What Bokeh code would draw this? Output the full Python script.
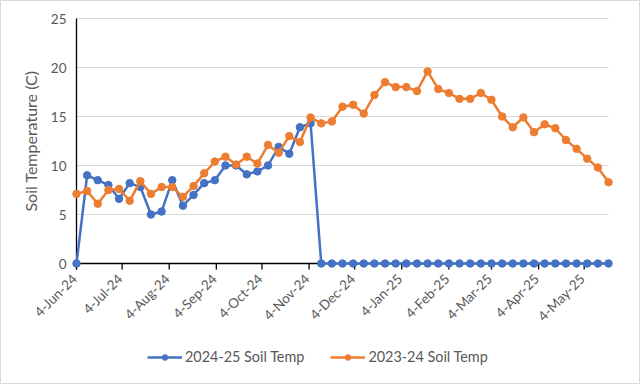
import math
import pandas as pd
from bokeh.plotting import figure
from bokeh.models import Range1d, Legend, LegendItem, ColumnDataSource
from bokeh.core.properties import value
from bokeh.embed import file_html
from bokeh.resources import INLINE

# ---- data ----
start_date = "2024-06-04"
n_weeks = 51
dates = pd.date_range(start_date, periods=n_weeks, freq="7D")

soil_2024_25 = [0.0, 9.0, 8.5, 8.0, 6.6, 8.2, 7.8, 5.0, 5.3, 8.5, 5.9,
                7.0, 8.2, 8.5, 10.0, 10.0, 9.1, 9.4, 10.0, 11.9, 11.2,
                13.9, 14.3] + [0.0] * 28

soil_2023_24 = [7.1, 7.4, 6.1, 7.5, 7.6, 6.4, 8.4, 7.1, 7.8, 7.8, 6.8,
                7.9, 9.2, 10.4, 10.9, 10.1, 10.9, 10.2, 12.1, 11.3, 13.0,
                12.4, 14.9, 14.3, 14.5, 16.0, 16.2, 15.3, 17.2, 18.5, 18.0,
                18.0, 17.6, 19.6, 17.8, 17.4, 16.8, 16.8, 17.4, 16.7, 15.0,
                13.9, 14.9, 13.4, 14.2, 13.8, 12.6, 11.7, 10.7, 9.8, 8.3]

series_names = ["2024-25 Soil Temp", "2023-24 Soil Temp"]
series_colors = ["#4472C4", "#ED7D31"]

tick_dates = pd.date_range("2024-06-01", periods=12, freq="MS") + pd.Timedelta(days=3)
tick_labels = ["4-Jun-24", "4-Jul-24", "4-Aug-24", "4-Sep-24", "4-Oct-24",
               "4-Nov-24", "4-Dec-24", "4-Jan-25", "4-Feb-25", "4-Mar-25",
               "4-Apr-25", "4-May-25"]
y_ticks = [0, 5, 10, 15, 20, 25]
y_tick_labels = ["0", "5", "10", "15", "20", "25"]
y_label = "Soil Temperature (C)"

# ---- layout (pixels) ----
W, H = 640, 384
PLOT_L, PLOT_R = 76, 608      # pixel x of first / last date
PLOT_T, PLOT_B = 18, 263      # pixel y of top / bottom of value axis
FONT = "Lato"
GRAY = "#595959"

x0, x1 = dates[0], dates[-1]
span_days = (x1 - x0) / pd.Timedelta(days=1)
px_day = (PLOT_R - PLOT_L) / span_days
y_lo, y_hi = y_ticks[0], y_ticks[-1]
px_unit = (PLOT_B - PLOT_T) / (y_hi - y_lo)

x_start = x0 - pd.Timedelta(days=PLOT_L / px_day)
x_end = x1 + pd.Timedelta(days=(W - PLOT_R) / px_day)
y_start = y_lo - (H - PLOT_B) / px_unit
y_end = y_hi + PLOT_T / px_unit
tick_len = 6 / px_unit

p = figure(width=W, height=H, x_axis_type="datetime",
           output_backend="svg", toolbar_location=None,
           x_range=Range1d(x_start, x_end), y_range=Range1d(y_start, y_end),
           min_border=0)
p.xaxis.visible = False
p.yaxis.visible = False
p.grid.visible = False
p.outline_line_color = "#D9D9D9"
p.background_fill_color = "white"
p.border_fill_color = "white"

# horizontal gridlines
n_g = len(y_ticks) - 1
p.segment(x0=[x0] * n_g, x1=[x1] * n_g, y0=y_ticks[1:], y1=y_ticks[1:],
          line_color="#D9D9D9", line_width=1)

# axis lines
p.segment(x0=[x0], x1=[x1], y0=[y_lo], y1=[y_lo], line_color="black", line_width=1.3)
p.segment(x0=[x0], x1=[x0], y0=[y_lo - tick_len], y1=[y_hi],
          line_color="black", line_width=1.3)
# x ticks
p.segment(x0=tick_dates, x1=tick_dates, y0=[y_lo] * len(tick_dates),
          y1=[y_lo - tick_len] * len(tick_dates), line_color="black", line_width=1.3)

# x tick labels
p.text(x=tick_dates, y=[y_lo] * len(tick_dates), text=tick_labels,
       angle=math.pi / 4, text_align="right", text_baseline="middle",
       x_offset=-2, y_offset=13, text_font=value(FONT),
       text_font_size="13.5px", text_color=GRAY)
# y tick labels
p.text(x=[x0] * len(y_ticks), y=y_ticks, text=y_tick_labels,
       text_align="right", text_baseline="middle", x_offset=-10,
       text_font=value(FONT), text_font_size="13.5px", text_color=GRAY)
# y axis title
p.text(x=[x0], y=[(y_lo + y_hi) / 2], text=[y_label], angle=math.pi / 2,
       text_align="center", text_baseline="middle", x_offset=-46,
       text_font=value(FONT), text_font_size="16px", text_color=GRAY)

renderers = []
for vals, name, col in zip([soil_2024_25, soil_2023_24], series_names, series_colors):
    src = ColumnDataSource(dict(x=dates, y=vals))
    l = p.line("x", "y", source=src, line_color=col, line_width=2.5)
    c = p.scatter("x", "y", source=src, size=7.5, fill_color=col, line_color=col)
    renderers.append((name, [l, c]))

legend = Legend(items=[LegendItem(label=n, renderers=r) for n, r in renderers],
                orientation="horizontal", location=(147, 19),
                label_text_font=FONT, label_text_font_size="14.4px",
                label_text_color=GRAY, glyph_width=35, glyph_height=14,
                label_standoff=3, spacing=26, border_line_color=None,
                background_fill_alpha=0, padding=0, margin=0)
p.add_layout(legend, "center")

open("out.html", "w").write(file_html(p, INLINE))
